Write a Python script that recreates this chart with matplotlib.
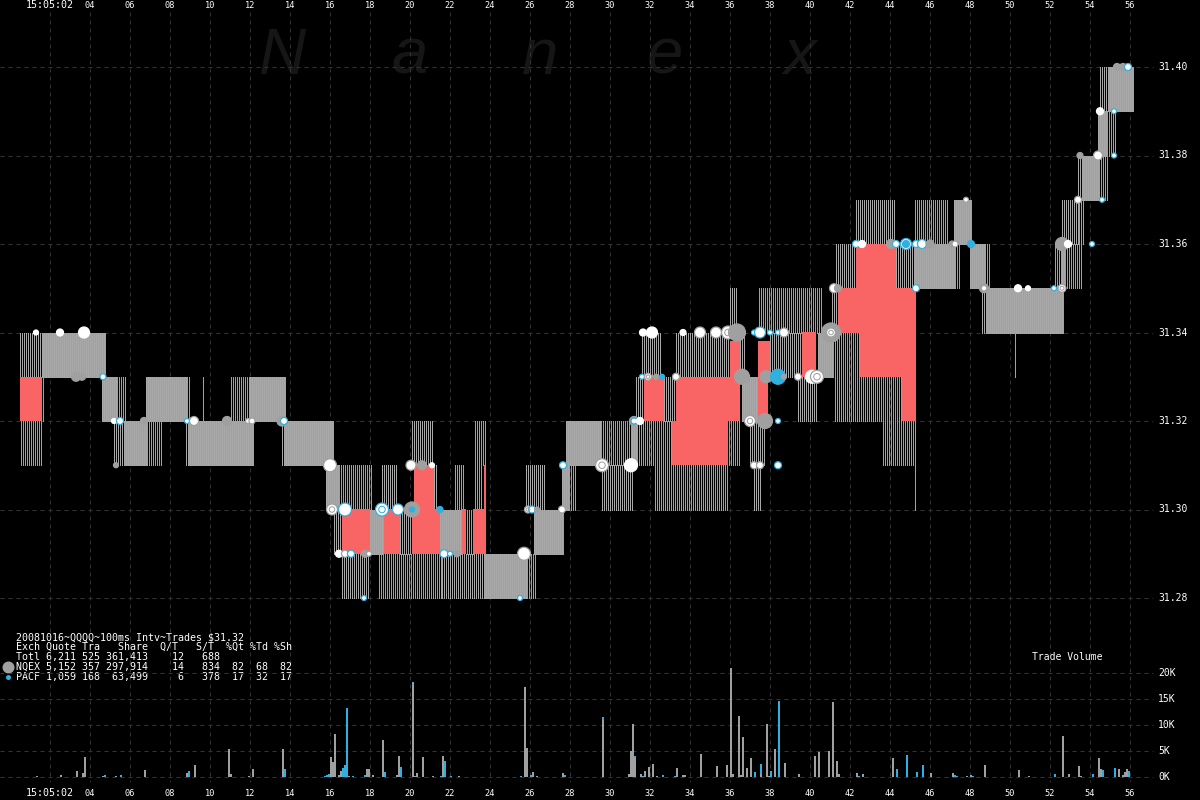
import numpy as np
import matplotlib
matplotlib.use('Agg')
import matplotlib.pyplot as plt

# quotes per exchange: (start second, end second, low price, high price)
nqex_quotes = [
    (0.5, 4.75, 31.33, 31.34), (4.6, 5.4, 31.32, 31.33), (5.2, 6.9, 31.31, 31.32),
    (6.75, 8.9, 31.32, 31.33), (8.8, 12.2, 31.31, 31.32), (12.0, 13.85, 31.32, 31.33),
    (13.65, 16.2, 31.31, 31.32), (15.85, 16.5, 31.30, 31.31), (16.2, 16.6, 31.29, 31.30),
    (16.6, 17.95, 31.28, 31.29), (18.0, 18.7, 31.29, 31.30), (18.6, 19.45, 31.30, 31.31),
    (19.5, 20.1, 31.29, 31.30), (20.1, 21.15, 31.31, 31.32), (21.2, 21.45, 31.30, 31.31),
    (21.5, 22.6, 31.29, 31.30), (21.6, 25.9, 31.28, 31.29), (25.8, 26.85, 31.30, 31.31),
    (26.15, 27.7, 31.29, 31.30), (27.6, 28.0, 31.30, 31.31), (27.8, 29.65, 31.31, 31.32),
    (29.6, 31.15, 31.30, 31.31), (31.1, 31.4, 31.31, 31.32), (31.3, 31.7, 31.32, 31.33),
    (31.6, 32.65, 31.33, 31.34), (32.7, 33.3, 31.32, 31.33), (33.3, 36.0, 31.33, 31.34),
    (36.0, 36.45, 31.34, 31.35), (36.5, 36.75, 31.33, 31.34), (36.55, 37.35, 31.32, 31.33),
    (37.0, 37.85, 31.31, 31.32), (37.2, 37.55, 31.30, 31.31), (38.0, 39.6, 31.33, 31.34),
    (39.4, 40.45, 31.32, 31.33), (40.35, 41.15, 31.33, 31.34), (41.1, 41.4, 31.34, 31.35),
    (41.3, 42.3, 31.35, 31.36), (42.3, 44.3, 31.36, 31.37), (44.3, 47.3, 31.35, 31.36),
    (47.2, 48.1, 31.36, 31.37), (48.0, 48.8, 31.35, 31.36), (48.6, 52.7, 31.34, 31.35),
    (52.6, 52.8, 31.35, 31.36), (52.6, 53.5, 31.36, 31.37), (53.4, 54.5, 31.37, 31.38),
    (54.4, 54.9, 31.38, 31.39), (54.5, 56.2, 31.39, 31.40),
]
pacf_quotes = [
    (0.5, 1.6, 31.31, 31.32), (1.6, 4.75, 31.33, 31.34), (1.6, 1.7, 31.32, 31.33),
    (4.6, 5.8, 31.32, 31.33), (5.7, 7.6, 31.31, 31.32), (6.75, 8.9, 31.32, 31.33),
    (8.9, 9.0, 31.32, 31.33), (9.65, 9.7, 31.32, 31.33), (8.9, 12.2, 31.31, 31.32),
    (10.95, 13.85, 31.32, 31.33), (13.7, 16.2, 31.31, 31.32), (15.85, 18.1, 31.30, 31.31),
    (18.0, 18.7, 31.29, 31.30), (18.35, 21.6, 31.28, 31.29), (21.5, 22.6, 31.29, 31.30),
    (22.15, 22.7, 31.30, 31.31), (22.8, 23.15, 31.29, 31.30), (23.15, 23.65, 31.30, 31.31),
    (23.25, 23.8, 31.31, 31.32), (23.7, 26.3, 31.28, 31.29), (26.15, 27.7, 31.29, 31.30),
    (27.6, 28.3, 31.30, 31.31), (27.8, 33.1, 31.31, 31.32), (32.15, 35.9, 31.30, 31.31),
    (35.9, 36.5, 31.31, 31.32), (36.55, 37.35, 31.32, 31.33), (37.45, 40.6, 31.34, 31.35),
    (40.35, 41.15, 31.33, 31.34), (41.15, 42.5, 31.33, 31.34), (41.15, 44.6, 31.32, 31.33),
    (43.65, 45.25, 31.31, 31.32), (45.25, 45.3, 31.30, 31.32), (45.25, 46.9, 31.36, 31.37),
    (45.2, 47.5, 31.35, 31.36), (47.2, 48.1, 31.36, 31.37), (48.0, 49.0, 31.35, 31.36),
    (48.8, 52.7, 31.34, 31.35), (50.15, 50.2, 31.33, 31.34), (52.25, 53.6, 31.35, 31.36),
    (53.35, 53.7, 31.36, 31.37), (53.6, 54.9, 31.37, 31.38), (54.4, 55.3, 31.38, 31.39),
    (54.9, 56.2, 31.39, 31.40),
]
# crossed market, solid red
crossed = [
    (0.5, 1.6, 31.32, 31.33), (16.6, 18.0, 31.29, 31.30), (18.7, 19.5, 31.29, 31.30),
    (20.1, 21.5, 31.29, 31.30), (20.2, 21.2, 31.30, 31.31), (22.6, 22.8, 31.29, 31.30),
    (23.15, 23.8, 31.29, 31.30), (23.7, 23.8, 31.30, 31.31), (31.7, 32.7, 31.32, 31.33),
    (33.1, 35.9, 31.31, 31.32), (33.3, 36.5, 31.32, 31.33), (36.0, 36.5, 31.33, 31.338),
    (37.4, 37.9, 31.32, 31.33), (37.4, 38.0, 31.33, 31.338), (39.6, 40.3, 31.33, 31.34),
    (41.4, 45.3, 31.34, 31.35), (42.5, 45.3, 31.33, 31.34), (44.6, 45.3, 31.32, 31.33),
    (42.3, 44.3, 31.35, 31.36),
]
# trades: (second, price, diameter, kind)
trades = [
    (1.3, 31.34, 5, 'w'), (2.5, 31.34, 7, 'w'), (3.7, 31.34, 11, 'w'), (3.3, 31.33, 9, 'g'),
    (3.6, 31.33, 7, 'g'), (4.65, 31.33, 6, 'wc'), (5.2, 31.32, 5, 'w'), (5.5, 31.32, 7, 'wc'),
    (6.7, 31.32, 7, 'g'), (8.85, 31.32, 5, 'wc'), (9.2, 31.32, 9, 'wg'), (10.85, 31.32, 9, 'g'),
    (11.9, 31.32, 5, 'wg'), (12.1, 31.32, 6, 'wg'), (13.6, 31.32, 10, 'g'), (13.7, 31.32, 7, 'wc'),
    (5.3, 31.31, 5, 'g'), (16.0, 31.31, 13, 'wg'), (16.1, 31.30, 11, 'r'), (16.75, 31.30, 13, 'wc'),
    (18.6, 31.30, 13, 'rc'), (19.4, 31.30, 11, 'wc'), (20.1, 31.30, 15, 'g'), (20.1, 31.30, 5, 'c'),
    (21.5, 31.30, 6, 'c'), (16.45, 31.29, 7, 'w'), (16.75, 31.29, 7, 'wg'), (17.05, 31.29, 7, 'wc'),
    (17.75, 31.29, 7, 'g'), (17.95, 31.29, 5, 'wg'), (21.7, 31.29, 8, 'wc'), (22.0, 31.29, 5, 'wc'),
    (22.35, 31.29, 6, 'g'), (20.05, 31.31, 10, 'wg'), (20.6, 31.31, 9, 'g'), (21.1, 31.31, 5, 'w'),
    (17.7, 31.28, 5, 'wc'), (25.5, 31.28, 5, 'wc'), (25.7, 31.29, 13, 'wg'), (25.9, 31.30, 7, 'r'),
    (26.1, 31.30, 7, 'wc'), (26.35, 31.30, 5, 'g'), (27.6, 31.30, 7, 'wg'), (27.65, 31.31, 7, 'wc'),
    (29.6, 31.31, 13, 'r'), (31.05, 31.31, 13, 'w'), (31.2, 31.32, 9, 'g'), (31.2, 31.32, 6, 'wc'),
    (31.5, 31.32, 7, 'w'), (31.6, 31.33, 5, 'wc'), (31.9, 31.33, 7, 'r'), (32.3, 31.33, 5, 'g'),
    (32.6, 31.33, 5, 'c'), (33.3, 31.33, 7, 'wg'), (31.65, 31.34, 7, 'w'), (32.1, 31.34, 11, 'w'),
    (33.65, 31.34, 6, 'w'), (34.5, 31.34, 11, 'wg'), (35.3, 31.34, 11, 'wg'), (35.9, 31.34, 13, 'r'),
    (36.35, 31.34, 17, 'g'), (37.2, 31.34, 5, 'wc'), (37.5, 31.34, 11, 'wc'), (38.0, 31.34, 5, 'wc'),
    (38.4, 31.34, 5, 'wc'), (38.7, 31.34, 9, 'wg'), (36.6, 31.33, 15, 'g'), (37.8, 31.33, 12, 'g'),
    (38.4, 31.33, 15, 'c'), (38.7, 31.33, 5, 'g'), (39.4, 31.33, 7, 'wg'), (40.1, 31.33, 13, 'w'),
    (40.35, 31.33, 13, 'r'), (37.0, 31.32, 11, 'r'), (37.75, 31.32, 15, 'g'), (38.4, 31.32, 5, 'wc'),
    (37.2, 31.31, 7, 'wg'), (37.5, 31.31, 7, 'wg'), (38.4, 31.31, 7, 'wc'), (41.05, 31.34, 19, 'g'),
    (41.05, 31.34, 9, 'r'), (41.2, 31.35, 9, 'wg'), (41.4, 31.35, 7, 'g'), (45.3, 31.35, 7, 'wc'),
    (42.3, 31.36, 7, 'wc'), (42.6, 31.36, 7, 'w'), (44.05, 31.36, 9, 'g'), (44.3, 31.36, 7, 'wc'),
    (44.8, 31.36, 11, 'wc'), (44.8, 31.36, 7, 'c'), (45.3, 31.36, 7, 'wc'), (45.6, 31.36, 9, 'wc'),
    (46.0, 31.36, 8, 'g'), (47.1, 31.36, 6, 'g'), (47.25, 31.36, 6, 'wg'), (48.05, 31.36, 7, 'c'),
    (54.1, 31.36, 5, 'wc'), (52.6, 31.36, 13, 'g'), (52.9, 31.36, 7, 'w'), (47.8, 31.37, 5, 'wg'),
    (48.7, 31.35, 9, 'g'), (48.7, 31.35, 3, 'w'), (50.4, 31.35, 7, 'w'), (50.9, 31.35, 5, 'w'),
    (52.2, 31.35, 5, 'wc'), (52.6, 31.35, 8, 'r'), (53.4, 31.37, 7, 'wg'), (54.6, 31.37, 5, 'wc'),
    (53.5, 31.38, 6, 'g'), (54.4, 31.38, 9, 'wg'), (55.2, 31.38, 5, 'wc'), (54.5, 31.39, 7, 'w'),
    (55.2, 31.39, 5, 'wc'), (55.35, 31.40, 7, 'g'), (55.65, 31.40, 7, 'g'), (55.9, 31.40, 7, 'wc'),
]
# trade volume in thousands of shares per 100ms interval
nqex_volume = [
    (1.35, .1), (2.55, .4), (3.35, 1.15), (3.65, .8), (3.75, 3.85), (4.65, .2), (5.3, .1), (6.75, 1.35),
    (8.85, .8), (9.25, 2.3), (10.95, 5.4), (11.05, .6), (11.95, .2), (12.15, 1.5), (13.65, 5.4),
    (16.05, 3.85), (16.15, 2.9), (16.25, 8.3), (16.45, .4), (16.55, 1.15), (16.95, .2), (17.85, 1.5),
    (17.95, 1.5), (18.15, .3), (18.65, 7.1), (19.35, .4), (19.45, 4), (20.15, 18), (20.25, .1),
    (20.35, .8), (20.65, 3.85), (21.15, .1), (21.65, 4), (22.45, .1), (25.75, 17.3), (25.85, 5.6),
    (26.15, 1), (26.35, .1), (27.65, .8), (29.65, 11), (30.95, .6), (31.05, 5), (31.15, 10.2),
    (31.25, 3.85), (31.55, .6), (31.75, 1.15), (31.95, 1.9), (32.15, 2.5), (32.35, .1), (33.35, 1.7),
    (33.65, .3), (33.75, .3), (34.55, 4.4), (35.35, 2.1), (35.85, 2.3), (36.05, 21), (36.15, .6),
    (36.45, 11.7), (36.55, .4), (36.65, 7.7), (36.85, 1.7), (37.05, 3.65), (37.55, .5), (37.85, 10.2),
    (37.95, .2), (38.25, 5.4), (38.75, 2.7), (39.45, .6), (40.25, 4), (40.45, 4.8), (40.95, 5),
    (41.15, 14.4), (41.35, 3.1), (41.45, .6), (42.35, .8), (42.65, .6), (44.15, 3.65), (46.05, .8),
    (47.15, .8), (47.85, .1), (48.05, .4), (48.75, 2.3), (50.45, 1.35), (50.95, .2), (52.65, 7.9),
    (52.95, .6), (53.45, 2.1), (53.55, .1), (54.45, 3.65), (54.55, 1.5), (55.45, 1.5), (55.65, .4),
    (55.75, 1), (55.85, 1.5),
]
pacf_volume = [
    (4.75, .4), (5.55, .4), (8.95, 1.15), (13.75, 1.5), (15.75, .2), (15.85, .4), (15.95, .6),
    (16.65, 1.7), (16.75, 2.3), (16.85, 13.3), (17.15, .2), (17.75, .4), (18.75, 1), (19.55, 1.9),
    (20.15, 18.3), (21.55, .2), (21.75, 3.1), (22.05, .1), (25.55, .1), (26.05, .4), (27.75, .4),
    (29.65, 11.5), (31.25, 4), (31.65, .2), (32.65, .4), (33.25, .2), (37.25, 1), (37.55, 2.5),
    (38.05, 1.15), (38.45, 14.6), (42.45, .1), (44.35, 1.5), (44.85, 4.2), (45.35, 1), (45.65, 2.3),
    (47.25, .4), (47.35, .1), (48.15, .2), (52.25, .6), (54.15, .6), (54.65, 1.35), (55.25, 1.7),
    (55.95, 1.15),
]
price_ticks = [31.28, 31.30, 31.32, 31.34, 31.36, 31.38, 31.40]
volume_ticks = [0, 5, 10, 15, 20]
second_ticks = list(range(4, 57, 2))
legend_lines = [
    '20081016~QQQQ~100ms Intv~Trades $31.32',
    'Exch Quote Tra   Share  Q/T   S/T  %Qt %Td %Sh',
    'Totl 6,211 525 361,413    12   688',
    'NQEX 5,152 357 297,914    14   834  82  68  82',
    'PACF 1,059 168  63,499     6   378  17  32  17',
]
watermark = [('N', 13.65), ('a', 20.0), ('n', 26.5), ('e', 32.75), ('x', 39.5)]

GRAY = '#a8a8a8'
CYAN = '#38c6f4'
BAR_GRAY = '#a0a0a0'
BAR_CYAN = '#30b0e0'
RED = '#f96565'
GRID = '#333333'
MONO = 'DejaVu Sans Mono'
KINDS = {'w': ('white', 'white'), 'wg': ('white', BAR_GRAY), 'wc': ('white', BAR_CYAN),
         'g': (BAR_GRAY, BAR_GRAY), 'c': (BAR_CYAN, BAR_CYAN),
         'r': ('white', BAR_GRAY), 'rc': ('white', BAR_CYAN)}


def px_x(px):
    return (px - 10) / 20.0


def stripes(ax, quotes, offset, color):
    # one line per 100ms interval, the two exchanges sit on alternating pixels
    for start, end, low, high in quotes:
        k0 = int(round(start * 10))
        k1 = max(int(round(end * 10)), k0 + 1)
        t = np.arange(k0, k1) / 10.0 + offset
        ax.vlines(t, low, high, colors=color, linewidth=0.72, antialiased=False, snap=True, zorder=2)


fig = plt.figure(figsize=(12, 8), dpi=100, facecolor='black')
ax = fig.add_axes([0, 0, 1, 1], facecolor='black')
ax.set_xlim(-0.5, 59.5)
ax.set_ylim(31.40 - 733 / 4425.0, 31.40 + 67 / 4425.0)
ax.axis('off')

vol = fig.add_axes([0, 0, 1, 1], facecolor='none')
vol.set_xlim(-0.5, 59.5)
vol.set_ylim(-23 / 5.2, 777 / 5.2)
vol.axis('off')

# grid
dash = (0, (4, 4))
ax.vlines(range(2, 57, 2), ax.get_ylim()[1] - 12 / 4425.0, ax.get_ylim()[1] - 782 / 4425.0,
          colors=GRID, linewidth=0.72, linestyles=dash, zorder=1)
ax.hlines(price_ticks, -0.5, px_x(1153), colors=GRID, linewidth=0.72, linestyles=dash, zorder=1)
vol.hlines(volume_ticks, -0.5, px_x(1153), colors=GRID, linewidth=0.72, linestyles=dash, zorder=1)

for letter, sec in watermark:
    ax.text(sec, 1 - 74 / 800.0, letter, transform=ax.get_xaxis_transform(), ha='center', va='baseline',
            color='#161616', fontsize=47, family='Liberation Sans', style='italic', zorder=0)

stripes(ax, nqex_quotes, 0.0, GRAY)
stripes(ax, pacf_quotes, 0.05, CYAN)

for start, end, low, high in crossed:
    ax.bar(start, high - low, width=end - start, bottom=low, align='edge', color=RED, linewidth=0, zorder=3)

# trades, sizes in pixels converted to points
t_sec = [t[0] for t in trades]
t_price = [t[1] for t in trades]
t_size = [(t[2] * 0.72) ** 2 for t in trades]
t_face = [KINDS[t[3]][0] for t in trades]
t_edge = [KINDS[t[3]][1] for t in trades]
ax.scatter(t_sec, t_price, s=t_size, c=t_face, edgecolors=t_edge, linewidths=0.9, zorder=4)
rings = [t for t in trades if t[3] in ('r', 'rc')]
ax.scatter([t[0] for t in rings], [t[1] for t in rings], s=[(t[2] * 0.36) ** 2 for t in rings],
           facecolors='none', edgecolors=[KINDS[t[3]][1] for t in rings], linewidths=0.72, zorder=5)

# volume bars, cyan first so a gray bar leaves the cyan tip showing
vol.bar([v[0] for v in pacf_volume], [v[1] for v in pacf_volume], width=0.1, color=BAR_CYAN, linewidth=0, zorder=2)
vol.bar([v[0] for v in nqex_volume], [v[1] for v in nqex_volume], width=0.1, color=BAR_GRAY, linewidth=0, zorder=3)

# time labels, top and bottom
for y_frac in (1 - 5 / 800.0, 1 - 793 / 800.0):
    ax.text(2, y_frac, '15:05:02', transform=ax.get_xaxis_transform(), ha='center', va='center',
            color='white', fontsize=7.2, family=MONO, zorder=6)
    for sec in second_ticks:
        ax.text(sec, y_frac, '%02d' % sec, transform=ax.get_xaxis_transform(), ha='center', va='center',
                color='white', fontsize=6.2, family=MONO, zorder=6)

for p in price_ticks:
    ax.text(px_x(1158), p, '%.2f' % p, ha='left', va='center', color='white', fontsize=7, family=MONO, zorder=6)
for v in volume_ticks:
    vol.text(px_x(1158), v, '%dK' % v, ha='left', va='center', color='white', fontsize=7, family=MONO, zorder=6)
vol.text(px_x(1032), 1 - 657 / 800.0, 'Trade Volume', transform=vol.get_xaxis_transform(), ha='left', va='center',
         color='white', fontsize=7, family=MONO, zorder=6)

# legend block
for i, line in enumerate(legend_lines):
    ax.text(px_x(16), 1 - (637 + i * 10) / 800.0, line, transform=ax.get_xaxis_transform(), ha='left', va='center',
            color='white', fontsize=7.2, family=MONO, zorder=6)
ax.scatter([px_x(8)], [0.16625], s=(12 * 0.72) ** 2, c=BAR_GRAY, linewidths=0,
           transform=ax.get_xaxis_transform(), zorder=6)
ax.scatter([px_x(8)], [0.15375], s=(5 * 0.72) ** 2, c=BAR_CYAN, linewidths=0,
           transform=ax.get_xaxis_transform(), zorder=6)

fig.savefig('out.png', dpi=100, facecolor='black')
